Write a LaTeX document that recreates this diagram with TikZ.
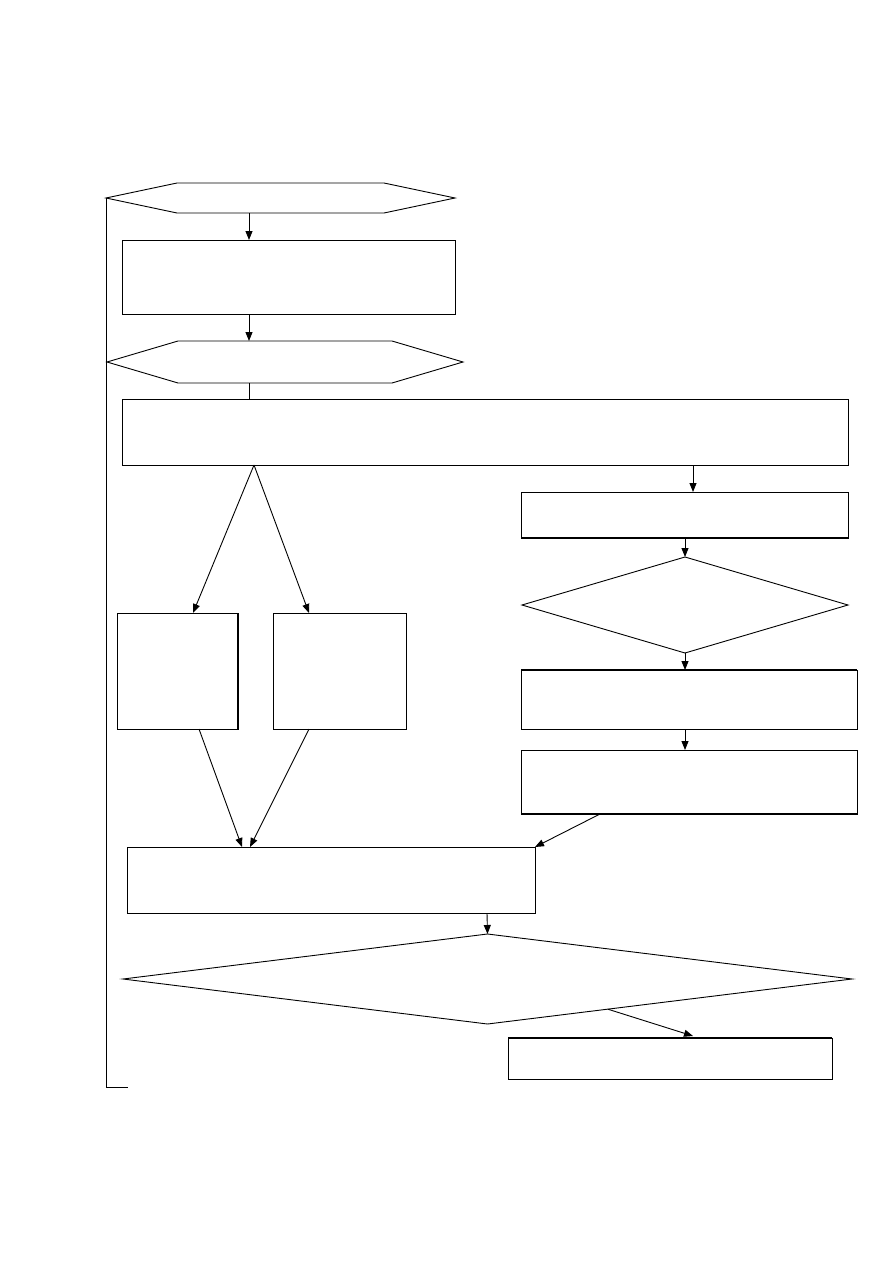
\documentclass[tikz,border=0pt]{standalone}
\usetikzlibrary{arrows.meta,shapes.geometric,calc}
\begin{document}
\begin{tikzpicture}[x=1pt,y=-1pt,
  line width=0.9pt,
  box/.style={draw,rectangle,inner sep=0pt,outer sep=0pt},
  dia/.style={draw,diamond,inner sep=0pt,outer sep=0pt},
  arr/.style={-{Triangle[length=9pt,width=7pt]}},
  thick edge/.style={line width=2pt}]
\useasboundingbox (0,0) rectangle (893,1263);
% hexagons
\coordinate (h1w) at (106,198);
\coordinate (h1s) at (249,213);
\draw (h1w) -- (177,183) -- (384,183) -- (455,198) -- (384,213) -- (177,213) -- cycle;
\coordinate (h2n) at (249,341);
\coordinate (h2s) at (249,383);
\draw (107,362) -- (178,341) -- (392,341) -- (463,362) -- (392,383) -- (178,383) -- cycle;
% boxes
\node[box,minimum width=333pt,minimum height=74pt] (b1) at (288.5,277) {};
\node[box,minimum width=726pt,minimum height=66pt] (big) at (485,432) {};
\node[box,minimum width=327pt,minimum height=46pt] (r1) at (684.5,515) {};
\node[dia,minimum width=326pt,minimum height=96pt] (d1) at (685,605) {};
\node[box,minimum width=336pt,minimum height=59pt] (r2) at (689,699.5) {};
\node[box,minimum width=336pt,minimum height=64pt] (r3) at (689,782) {};
\node[box,minimum width=121pt,minimum height=116pt] (l1) at (177.5,671) {};
\node[box,minimum width=133pt,minimum height=116pt] (l2) at (339.5,671) {};
\node[box,minimum width=408pt,minimum height=66pt] (bot) at (331,880) {};
\node[dia,minimum width=729pt,minimum height=90pt] (d2) at (487.5,979) {};
\node[box,minimum width=324pt,minimum height=41pt] (fin) at (670,1058.5) {};
% thicker edges
\draw[thick edge] (r1.south west) -- (r1.south east);
\draw[thick edge] (r2.north west) -- (r2.north east);
\draw[thick edge] (r3.south west) -- (r3.south east);
\draw[thick edge] (l1.north east) -- (l1.south east);
\draw[thick edge] (fin.north west) -- (fin.north east);
% connectors
\draw[arr] (h1s) -- (h1s |- b1.north);
\draw[arr] (h1s |- b1.south) -- (h2n);
\draw (h2s) -- (h2s |- big.north);
\coordinate (bs) at (693,465);
\draw[arr] (bs) -- (bs |- r1.north);
\draw[arr] (d1.north |- r1.south) -- (d1.north);
\draw[arr] (d1.south) -- (d1.south |- r2.north);
\draw[arr] (d1.south |- r2.south) -- (d1.south |- r3.north);
\coordinate (fan) at (254,465);
\coordinate (l1in) at (193,613);
\coordinate (l2in) at (309,613);
\draw[arr] (fan) -- (l1in);
\draw[arr] (fan) -- (l2in);
\coordinate (l1out) at (199,729);
\coordinate (l2out) at (309,729);
\coordinate (botin1) at (242,847);
\coordinate (botin2) at (250,847);
\draw[arr] (l1out) -- (botin1);
\draw[arr] (l2out) -- (botin2);
\coordinate (r3out) at (600,814);
\draw[arr] (r3out) -- (bot.north east);
\coordinate (botout) at (487,913);
\draw[arr] (botout) -- (d2.north);
\coordinate (d2out) at ($(d2.south)!0.33!(d2.east)$);
\coordinate (finin) at (693,1036);
\draw[arr] (d2out) -- (finin);
% left loop
\coordinate (loopend) at (128,1087);
\draw (h1w) -- (h1w |- loopend) -- (loopend);
\end{tikzpicture}
\end{document}
